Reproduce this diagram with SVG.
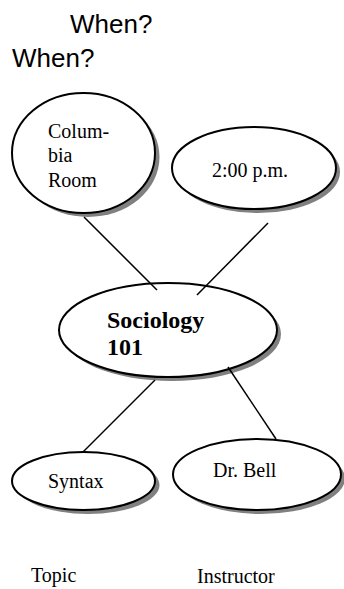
<svg xmlns="http://www.w3.org/2000/svg" width="344" height="589" viewBox="0 0 344 589">
<style>
.shadow{fill:#808080;stroke:none}
.node{fill:#fff;stroke:#000;stroke-width:2}
.t{font-family:"Liberation Serif",serif;font-size:20px;fill:#000}
.b{font-family:"Liberation Serif",serif;font-size:24px;font-weight:bold;fill:#000}
.h{font-family:"Liberation Sans",sans-serif;font-size:26px;fill:#000}
.edge{stroke:#000;stroke-width:1.5;fill:none}
</style>
<rect width="344" height="589" fill="#fff"/>
<text class="h" x="70" y="33">When?</text>
<text class="h" x="12" y="67">When?</text>
<g id="columbia">
<ellipse class="shadow" cx="88" cy="157" rx="71.5" ry="60"/>
<ellipse class="node" cx="83.5" cy="153" rx="71.5" ry="60"/>
<text class="t" x="48" y="138">Colum-</text>
<text class="t" x="48" y="162">bia</text>
<text class="t" x="48" y="187">Room</text>
</g>
<g id="time">
<ellipse class="shadow" cx="258" cy="172" rx="82" ry="41"/>
<ellipse class="node" cx="254" cy="168" rx="82" ry="41"/>
<text class="t" x="212" y="177">2:00 p.m.</text>
</g>
<g id="sociology">
<ellipse class="shadow" cx="172" cy="334" rx="109" ry="47"/>
<ellipse class="node" cx="168" cy="330" rx="109" ry="47"/>
<text class="b" x="107" y="328">Sociology</text>
<text class="b" x="107" y="355">101</text>
</g>
<g id="syntax">
<ellipse class="shadow" cx="88" cy="485" rx="71.5" ry="29"/>
<ellipse class="node" cx="83.5" cy="481" rx="71.5" ry="29"/>
<text class="t" x="48" y="488">Syntax</text>
</g>
<g id="bell">
<ellipse class="shadow" cx="261" cy="478.5" rx="84" ry="35.5"/>
<ellipse class="node" cx="257" cy="474.5" rx="84" ry="35.5"/>
<text class="t" x="213" y="477">Dr. Bell</text>
</g>
<g id="connectors">
<line class="edge" x1="84" y1="217" x2="157" y2="290"/>
<line class="edge" x1="268" y1="223" x2="197" y2="295"/>
<line class="edge" x1="155" y1="380" x2="83" y2="452"/>
<line class="edge" x1="228" y1="367" x2="276" y2="439"/>
</g>
<text class="t" x="31" y="582">Topic</text>
<text class="t" x="197" y="583">Instructor</text>
</svg>
